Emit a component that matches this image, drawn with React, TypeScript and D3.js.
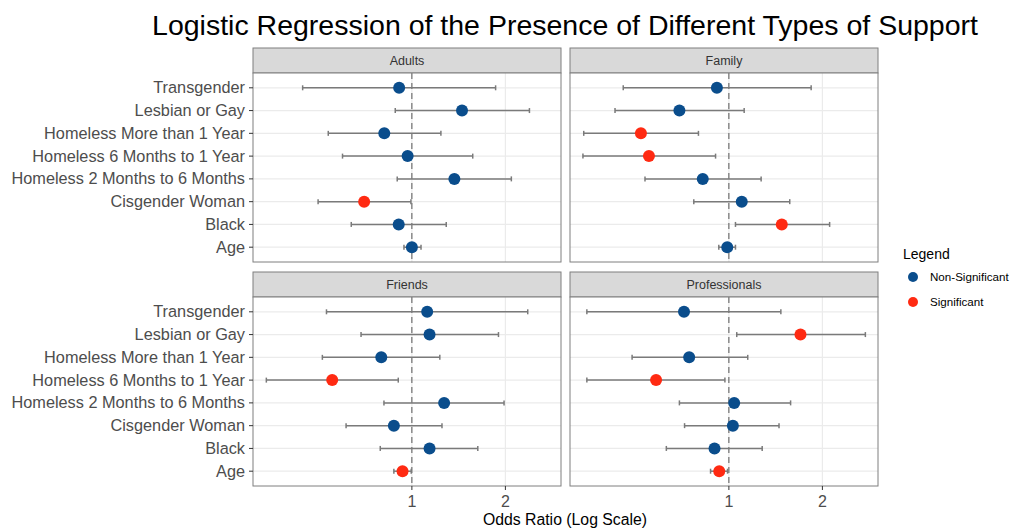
import React from "react";
import * as d3 from "d3";

const categories = [
  "Transgender",
  "Lesbian or Gay",
  "Homeless More than 1 Year",
  "Homeless 6 Months to 1 Year",
  "Homeless 2 Months to 6 Months",
  "Cisgender Woman",
  "Black",
  "Age",
];

const panels = ["Adults", "Family", "Friends", "Professionals"];

// odds ratios, lower CI, upper CI, significance — per panel, in category order
const adultsOR = [0.91, 1.45, 0.815, 0.969, 1.37, 0.702, 0.907, 1.0];
const adultsLo = [0.445, 0.884, 0.538, 0.598, 0.897, 0.499, 0.638, 0.943];
const adultsHi = [1.86, 2.39, 1.24, 1.57, 2.09, 0.993, 1.29, 1.07];
const adultsSig = [false, false, false, false, false, true, false, false];

const familyOR = [0.915, 0.693, 0.521, 0.553, 0.824, 1.1, 1.48, 0.988];
const familyLo = [0.457, 0.43, 0.341, 0.339, 0.537, 0.771, 1.05, 0.928];
const familyHi = [1.84, 1.12, 0.798, 0.906, 1.27, 1.57, 2.11, 1.05];
const familySig = [false, false, true, true, false, false, true, false];

const friendsOR = [1.12, 1.14, 0.797, 0.554, 1.27, 0.875, 1.14, 0.933];
const friendsLo = [0.531, 0.686, 0.515, 0.34, 0.813, 0.614, 0.791, 0.875];
const friendsHi = [2.36, 1.9, 1.23, 0.904, 1.98, 1.25, 1.63, 0.995];
const friendsSig = [false, false, false, true, false, false, false, true];

const profOR = [0.717, 1.7, 0.745, 0.583, 1.04, 1.03, 0.899, 0.931];
const profLo = [0.349, 1.06, 0.488, 0.349, 0.693, 0.72, 0.629, 0.873];
const profHi = [1.47, 2.75, 1.15, 0.971, 1.58, 1.45, 1.28, 0.99];
const profSig = [false, true, false, true, false, false, false, true];

const xTicks = [1, 2];
const legendLabels = ["Non-Significant", "Significant"];

const panelData = [
  { or: adultsOR, lo: adultsLo, hi: adultsHi, sig: adultsSig },
  { or: familyOR, lo: familyLo, hi: familyHi, sig: familySig },
  { or: friendsOR, lo: friendsLo, hi: friendsHi, sig: friendsSig },
  { or: profOR, lo: profLo, hi: profHi, sig: profSig },
];

const W = 1015;
const H = 528;
const BLUE = "#0a4d8c";
const RED = "#ff2a12";
const FONT = "Liberation Sans, Arial, sans-serif";

const panelW = 308;
const panelH = 189;
const stripH = 25;
const colX = [253, 570];
const rowY = [48, 272];

export default function App() {
  const x = d3.scaleLog().domain([0.308, 3.02]).range([0, panelW]);
  const y = d3.scalePoint<string>().domain(categories).range([0, panelH]).padding(0.65);

  return (
    <svg width={W} height={H} style={{ position: "absolute", left: 0, top: 0, background: "#fff" }} fontFamily={FONT}>
      <text x={565} y={35} textAnchor="middle" fontSize={28.5} fill="#000">
        Logistic Regression of the Presence of Different Types of Support
      </text>
      {panels.map((name, pi) => {
        const col = pi % 2;
        const row = Math.floor(pi / 2);
        const px = colX[col];
        const py = rowY[row];
        const d = panelData[pi];
        const top = py + stripH;
        return (
          <g key={name}>
            <rect x={px} y={py} width={panelW} height={stripH} fill="#d9d9d9" stroke="#7f7f7f" strokeWidth={1} />
            <text x={px + panelW / 2} y={py + stripH / 2 + 4.5} textAnchor="middle" fontSize={12.5} fill="#333">
              {name}
            </text>
            <g transform={`translate(${px},${top})`}>
              <rect x={0} y={0} width={panelW} height={panelH} fill="#fff" />
              {categories.map((c) => (
                <line key={c} x1={0} x2={panelW} y1={y(c)} y2={y(c)} stroke="#ebebeb" strokeWidth={1.2} />
              ))}
              {xTicks.map((t) => (
                <line key={t} x1={x(t)} x2={x(t)} y1={0} y2={panelH} stroke="#ebebeb" strokeWidth={1.2} />
              ))}
              <line x1={x(1)} x2={x(1)} y1={0} y2={panelH} stroke="#555" strokeWidth={1} strokeDasharray="6,4" />
              {categories.map((c, i) => {
                const cy = y(c) as number;
                return (
                  <g key={c}>
                    <line x1={x(d.lo[i])} x2={x(d.hi[i])} y1={cy} y2={cy} stroke="#7a7a7a" strokeWidth={1.5} />
                    <line x1={x(d.lo[i])} x2={x(d.lo[i])} y1={cy - 2.5} y2={cy + 2.5} stroke="#7a7a7a" strokeWidth={1.5} />
                    <line x1={x(d.hi[i])} x2={x(d.hi[i])} y1={cy - 2.5} y2={cy + 2.5} stroke="#7a7a7a" strokeWidth={1.5} />
                    <circle cx={x(d.or[i])} cy={cy} r={6} fill={d.sig[i] ? RED : BLUE} />
                  </g>
                );
              })}
              <rect x={0} y={0} width={panelW} height={panelH} fill="none" stroke="#7f7f7f" strokeWidth={1} />
              {col === 0 &&
                categories.map((c) => (
                  <g key={c}>
                    <line x1={-4} x2={0} y1={y(c)} y2={y(c)} stroke="#333" strokeWidth={1} />
                    <text x={-8} y={(y(c) as number) + 5.5} textAnchor="end" fontSize={16.3} fill="#4d4d4d">
                      {c}
                    </text>
                  </g>
                ))}
              {row === 1 &&
                xTicks.map((t) => (
                  <g key={t}>
                    <line x1={x(t)} x2={x(t)} y1={panelH} y2={panelH + 4} stroke="#333" strokeWidth={1} />
                    <text x={x(t)} y={panelH + 21} textAnchor="middle" fontSize={16} fill="#4d4d4d">
                      {t}
                    </text>
                  </g>
                ))}
            </g>
          </g>
        );
      })}
      <text x={565} y={525} textAnchor="middle" fontSize={15.8} fill="#000">
        Odds Ratio (Log Scale)
      </text>
      <text x={903} y={259} fontSize={14} fill="#000">
        Legend
      </text>
      {legendLabels.map((l, i) => (
        <g key={l}>
          <circle cx={913} cy={277 + i * 25} r={5} fill={i === 0 ? BLUE : RED} />
          <text x={930} y={281 + i * 25} fontSize={11.6} fill="#000">
            {l}
          </text>
        </g>
      ))}
    </svg>
  );
}
